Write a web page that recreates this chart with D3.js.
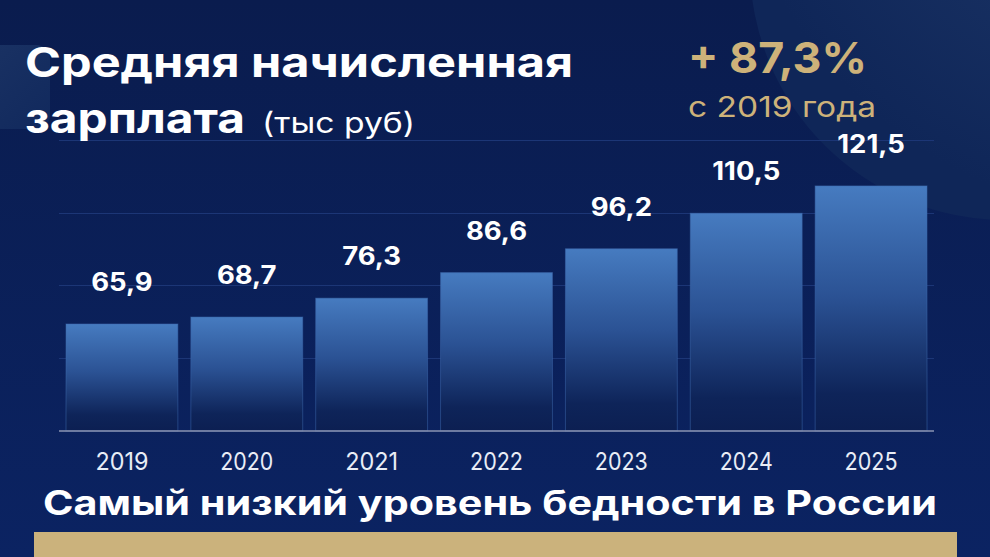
<!DOCTYPE html>
<html>
<head>
<meta charset="utf-8">
<script src="https://cdn.jsdelivr.net/npm/d3@7"></script>
<style>
	body { margin: 0; background: #0a1f55; overflow: hidden; }
	svg { display: block; }
	text { font-family: Inter, "Noto Sans", sans-serif; }
</style>
</head>
<body>
<div id="chart"></div>
<script>
// data
var years = ["2019", "2020", "2021", "2022", "2023", "2024", "2025"];
var salary = [65.9, 68.7, 76.3, 86.6, 96.2, 110.5, 121.5];
var gridValues = [22.8, 52.1, 81.4, 110.7, 140];

var width = 990, height = 557;
var gold = "#cdb27a";

var ru = d3.formatLocale({decimal: ",", thousands: " ", grouping: [3], currency: ["", ""]});
var fmt = ru.format(".1f");

var svg = d3.select("#chart").append("svg")
	.attr("width", width)
	.attr("height", height);

var defs = svg.append("defs");

var bg = defs.append("linearGradient").attr("id", "bg")
	.attr("x1", 0).attr("y1", 0).attr("x2", 0).attr("y2", 1);
bg.append("stop").attr("offset", "0%").attr("stop-color", "#0a1c4e");
bg.append("stop").attr("offset", "100%").attr("stop-color", "#0b2362");

var glow = defs.append("radialGradient").attr("id", "glow")
	.attr("cx", "80%").attr("cy", "15%").attr("r", "85%");
glow.append("stop").attr("offset", "0%").attr("stop-color", "#213b6c");
glow.append("stop").attr("offset", "100%").attr("stop-color", "#0f2658");

var side = defs.append("linearGradient").attr("id", "side")
	.attr("x1", 0).attr("y1", 0).attr("x2", 1).attr("y2", 1);
side.append("stop").attr("offset", "0%").attr("stop-color", "#1b3364");
side.append("stop").attr("offset", "100%").attr("stop-color", "#11295d");

var barGrad = defs.append("linearGradient").attr("id", "bar")
	.attr("x1", 0).attr("y1", 0).attr("x2", 0).attr("y2", 1);
barGrad.append("stop").attr("offset", "0%").attr("stop-color", "#467bc0");
barGrad.append("stop").attr("offset", "45%").attr("stop-color", "#2b5294");
barGrad.append("stop").attr("offset", "85%").attr("stop-color", "#0e2459");
barGrad.append("stop").attr("offset", "100%").attr("stop-color", "#0c1f52");

// background
svg.append("rect").attr("width", width).attr("height", height).attr("fill", "url(#bg)");
svg.append("circle").attr("cx", 1005).attr("cy", -35).attr("r", 255).attr("fill", "url(#glow)");
svg.append("rect").attr("x", -40).attr("y", 45).attr("width", 90).attr("height", 84)
	.attr("rx", 14).attr("fill", "url(#side)");

// scales
var x = d3.scaleBand()
	.domain(years)
	.range([59, 934])
	.paddingInner(0.104)
	.paddingOuter(0.056);

var y = d3.scaleLinear()
	.domain([22.8, 140])
	.range([431, 140]);

// grid
svg.append("g").selectAll("line")
	.data(gridValues.slice(1))
	.enter().append("line")
	.attr("x1", 59).attr("x2", 934)
	.attr("y1", function(d){ return Math.round(y(d)) + 0.5; })
	.attr("y2", function(d){ return Math.round(y(d)) + 0.5; })
	.attr("stroke", "#1c3676")
	.attr("stroke-width", 1);

// bars
svg.append("g").selectAll("rect")
	.data(salary)
	.enter().append("rect")
	.attr("x", function(d, i){ return x(years[i]); })
	.attr("y", function(d){ return y(d); })
	.attr("width", x.bandwidth())
	.attr("height", function(d){ return y(gridValues[0]) - y(d); })
	.attr("fill", "url(#bar)")
	.attr("stroke", "#3d6aae")
	.attr("stroke-opacity", 0.5)
	.attr("stroke-width", 1);

// baseline axis
var xAxis = svg.append("g")
	.attr("transform", "translate(0," + y(gridValues[0]) + ")")
	.call(d3.axisBottom(x).tickSize(0).tickPadding(22));
xAxis.select(".domain").attr("stroke", "#8b94b3").attr("stroke-width", 1.5)
	.attr("d", "M59,0H934");
xAxis.selectAll(".tick text")
	.attr("fill", "#e9edf6")
	.attr("textLength", 53)
	.attr("lengthAdjust", "spacingAndGlyphs")
	.style("font-family", "Inter, sans-serif")
	.style("font-size", "24px")
	.style("font-weight", 400);

// value labels
svg.append("g").selectAll("text")
	.data(salary)
	.enter().append("text")
	.attr("x", function(d, i){ return x(years[i]) + x.bandwidth() / 2; })
	.attr("y", function(d){ return y(d) - 33; })
	.attr("text-anchor", "middle")
	.attr("fill", "#ffffff")
	.style("font-size", "25px")
	.style("font-weight", 700)
	.text(function(d){ return fmt(d); })
	.attr("textLength", function(){ return this.getComputedTextLength() * 1.1; })
	.attr("lengthAdjust", "spacingAndGlyphs");

// stretch text to the width it has in the picture
function fit(sel, w) {
	sel.attr("textLength", w).attr("lengthAdjust", "spacingAndGlyphs");
	return sel;
}

// titles
fit(svg.append("text").attr("x", 25).attr("y", 77)
	.attr("fill", "#fff").style("font-size", "41px").style("font-weight", 700)
	.text("Средняя начисленная"), 548);
fit(svg.append("text").attr("x", 25).attr("y", 133)
	.attr("fill", "#fff").style("font-size", "41px").style("font-weight", 700)
	.text("зарплата"), 220);
fit(svg.append("text").attr("x", 262).attr("y", 133)
	.attr("fill", "#fff").style("font-size", "29px").style("font-weight", 400)
	.text("(тыс руб)"), 153);

fit(svg.append("text").attr("x", 688).attr("y", 73)
	.attr("fill", gold).style("font-size", "43px").style("font-weight", 700)
	.text("+ 87,3%"), 179);
fit(svg.append("text").attr("x", 688).attr("y", 117)
	.attr("fill", gold).style("font-size", "29px").style("font-weight", 400)
	.text("с 2019 года"), 188);

fit(svg.append("text").attr("x", 43).attr("y", 515)
	.attr("fill", "#fff").style("font-size", "34px").style("font-weight", 700)
	.text("Самый низкий уровень бедности в России"), 894);

// gold band
svg.append("rect").attr("x", 34).attr("y", 532).attr("width", 923).attr("height", 30)
	.attr("fill", "#cbb27c");
</script>
</body>
</html>
